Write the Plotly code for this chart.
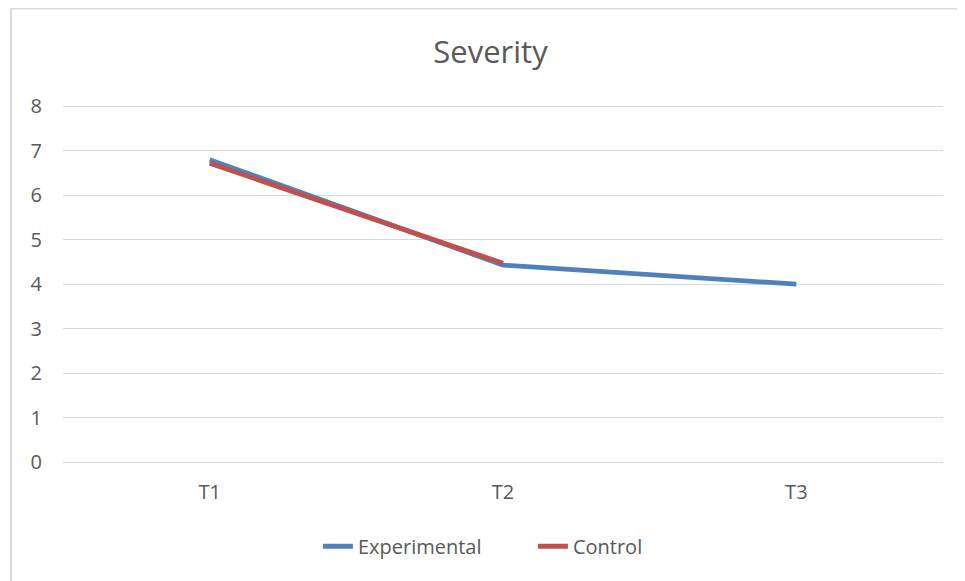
import plotly.graph_objects as go

# Severity scores at each time point
time_points = ["T1", "T2", "T3"]
experimental = [6.8, 4.43, 4.0]
control = [6.72, 4.47, None]

GRID = "#d9d9d9"
TEXT = "#595959"
FONT = "Open Sans, Liberation Sans, sans-serif"

fig = go.Figure()

fig.add_trace(go.Scatter(
    x=time_points, y=experimental,
    mode="lines", name="Experimental",
    line=dict(color="#4F81BD", width=4.8),
))
fig.add_trace(go.Scatter(
    x=time_points, y=control,
    mode="lines", name="Control",
    line=dict(color="#C0504D", width=4.8),
))

fig.update_layout(
    width=965, height=581,
    margin=dict(l=55, r=30, t=97, b=127),
    paper_bgcolor="white",
    plot_bgcolor="white",
    font=dict(family=FONT, color=TEXT, size=20),
    title=dict(text="Severity", x=0.5, xanchor="center", y=0.924, yanchor="middle",
               font=dict(size=31, color=TEXT, family=FONT)),
    legend=dict(orientation="h", x=0.534, xanchor="center", y=-0.236, yanchor="middle",
                font=dict(size=20, color=TEXT), entrywidth=170),
    xaxis=dict(range=[-0.5, 2.5], showgrid=False, showline=False, zeroline=False,
               ticks="", ticklabelstandoff=16, fixedrange=True),
    yaxis=dict(range=[0, 8.03], tickvals=[0, 1, 2, 3, 4, 5, 6, 7, 8],
               showgrid=True, gridcolor=GRID, gridwidth=1,
               zeroline=True, zerolinecolor=GRID, zerolinewidth=1,
               showline=False, ticks="", ticklabelstandoff=20),
    shapes=[dict(type="rect", xref="paper", yref="paper",
                 x0=-0.059, x1=1.05, y0=-0.45, y1=1.27,
                 line=dict(color="#d9d9d9", width=2), layer="below")],
)

fig.write_html("out.html")
